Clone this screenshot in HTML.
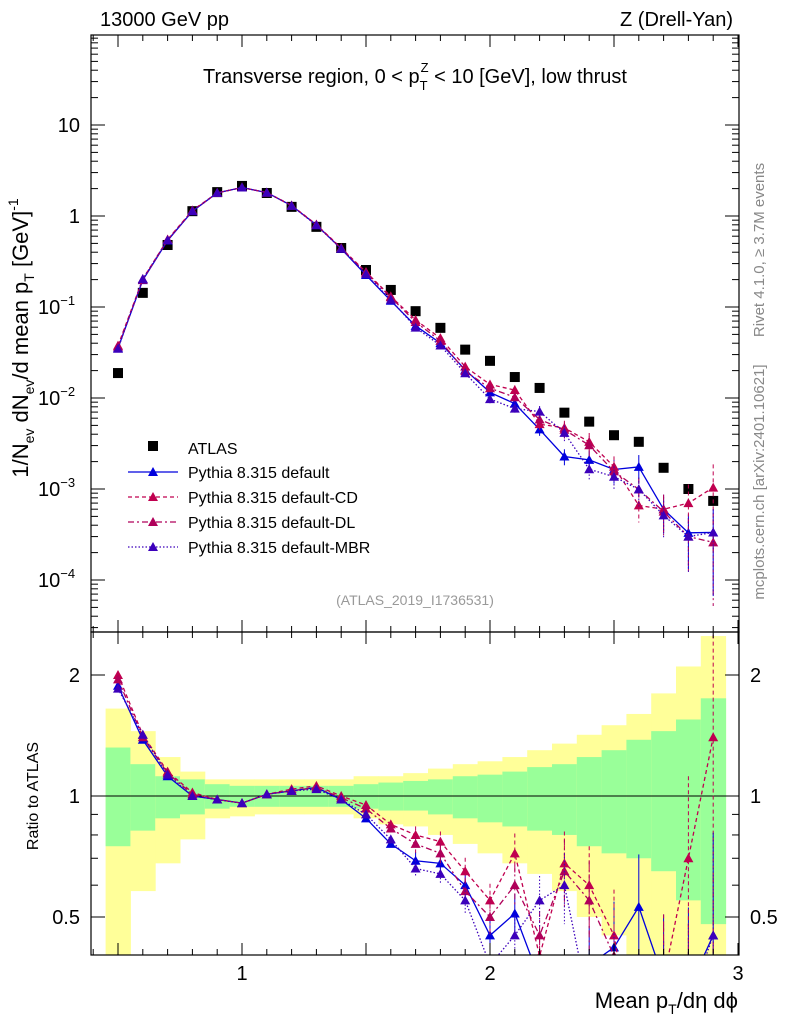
<!DOCTYPE html>
<html><head><meta charset="utf-8"><style>
html,body{margin:0;background:#fff;overflow:hidden;width:786px;height:1024px;}
svg{display:block;font-family:"Liberation Sans",sans-serif;}
</style></head><body>
<svg id="c" width="786" height="1024" viewBox="0 0 786 1024"></svg>
<script>
const bins=[0.5,0.6,0.7,0.8,0.9,1.0,1.1,1.2,1.3,1.4,1.5,1.6,1.7,1.8,1.9,2.0,2.1,2.2,2.3,2.4,2.5,2.6,2.7,2.8,2.9];
const atlas=[0.0188,0.143,0.48,1.13,1.83,2.14,1.79,1.26,0.76,0.445,0.255,0.154,0.090,0.059,0.034,0.0256,0.0170,0.0129,0.0069,0.0055,0.0039,0.0033,0.00171,0.00100,0.00074];
const rDefault=[1.88,1.38,1.12,1.0,0.98,0.96,1.01,1.03,1.05,0.98,0.88,0.76,0.69,0.68,0.60,0.45,0.51,0.35,0.33,0.38,0.42,0.53,0.35,0.33,0.45];
const rCD=[2.0,1.42,1.15,1.02,0.98,0.96,1.01,1.04,1.06,1.0,0.95,0.85,0.80,0.77,0.65,0.55,0.72,0.40,0.68,0.60,0.45,0.20,0.35,0.70,1.40];
const rDL=[1.95,1.40,1.14,1.01,0.98,0.96,1.01,1.03,1.05,0.99,0.93,0.83,0.76,0.72,0.58,0.50,0.60,0.45,0.65,0.55,0.40,0.30,0.33,0.30,0.35];
const rMBR=[1.85,1.42,1.13,1.0,0.98,0.96,1.01,1.03,1.04,0.98,0.90,0.78,0.66,0.64,0.55,0.38,0.45,0.55,0.60,0.30,0.35,0.30,0.30,0.30,0.45];
const relErr=[0.02,0.02,0.02,0.02,0.02,0.02,0.02,0.02,0.02,0.03,0.03,0.04,0.05,0.06,0.08,0.10,0.12,0.15,0.20,0.25,0.30,0.35,0.45,0.60,0.80];
const yelLo=[0.3,0.58,0.68,0.78,0.88,0.89,0.9,0.9,0.9,0.9,0.88,0.85,0.84,0.8,0.76,0.72,0.68,0.64,0.58,0.5,0.45,0.4,0.4,0.4,0.4];
const yelHi=[1.65,1.45,1.25,1.15,1.1,1.1,1.1,1.1,1.1,1.1,1.12,1.12,1.14,1.17,1.2,1.22,1.25,1.3,1.35,1.42,1.5,1.6,1.8,2.1,2.5];
const grnLo=[0.75,0.82,0.88,0.9,0.93,0.94,0.94,0.94,0.94,0.94,0.93,0.92,0.92,0.9,0.88,0.86,0.84,0.82,0.8,0.75,0.72,0.7,0.65,0.55,0.48];
const grnHi=[1.32,1.2,1.12,1.1,1.07,1.06,1.06,1.06,1.06,1.06,1.07,1.08,1.09,1.1,1.12,1.13,1.15,1.18,1.2,1.25,1.3,1.38,1.45,1.55,1.75];
const xTicks=[1,2,3];
const yTicks=[[10,"10"],[1,"1"],[0.1,"10"],[0.01,"10"],[0.001,"10"],[0.0001,"10"]];
const yExp=["","","−1","−2","−3","−4"];

const L=91,R=739,T=35,MB=632,RB=955;
const X=v=>242+(v-1)*248;
const Y=v=>216-Math.log10(v)*91;
const YR=v=>796-Math.log2(v)*121;
const svg=document.getElementById('c');
const NS="http://www.w3.org/2000/svg";
function el(tag,at,name,parent){const e=document.createElementNS(NS,tag);for(const k in at)e.setAttribute(k,at[k]);


(parent||svg).appendChild(e);return e;}
function txt(x,y,s,size,name,extra){const e=el('text',Object.assign({x:x,y:y,'font-size':size},extra||{}),name);e.innerHTML=s;return e;}

const defs=el('defs',{},'defs');
const cp1=el('clipPath',{id:'cm'},'clip-main',defs);el('rect',{x:L,y:T,width:R-L,height:MB-T},'clip-rect',cp1);
const cp2=el('clipPath',{id:'cr'},'clip-ratio',defs);el('rect',{x:L,y:MB,width:R-L,height:RB-MB},'clip-rect',cp2);
const gm=el('g',{'clip-path':'url(#cm)'},'main-plot');
const gr=el('g',{'clip-path':'url(#cr)'},'ratio-plot');

bins.forEach((b,i)=>{
 el('rect',{x:X(b-0.05),width:X(b+0.05)-X(b-0.05)+0.5,y:YR(yelHi[i]),height:YR(yelLo[i])-YR(yelHi[i]),fill:'#ffff99'},'syst-band',gr);
 el('rect',{x:X(b-0.05),width:X(b+0.05)-X(b-0.05)+0.5,y:YR(grnHi[i]),height:YR(grnLo[i])-YR(grnHi[i]),fill:'#99ff99'},'stat-band',gr);
});
el('line',{x1:L,x2:R,y1:YR(1),y2:YR(1),stroke:'#000','stroke-width':1},'ratio-unity-line',gr);

bins.forEach((b,i)=>{el('rect',{x:X(b)-5,y:Y(atlas[i])-5,width:10,height:10,fill:'#000'},'atlas-point',gm);});

const series=[
 {r:rDefault,c:'#0000dd',d:'',name:'pythia-default'},
 {r:rCD,c:'#c0004f',d:'4,3',name:'pythia-default-cd'},
 {r:rDL,c:'#b0005a',d:'6,3,2,3',name:'pythia-default-dl'},
 {r:rMBR,c:'#3c00bb',d:'1.5,2',name:'pythia-default-mbr'}];
function tri(g,x,y,c,name){el('polygon',{points:`${x},${y-5} ${x-5},${y+4} ${x+5},${y+4}`,fill:c},name,g);}
series.forEach(s=>{
 el('polyline',{points:bins.map((b,i)=>`${X(b)},${Y(atlas[i]*s.r[i])}`).join(' '),fill:'none',stroke:s.c,'stroke-width':1.3,'stroke-dasharray':s.d},s.name+'-line',gm);
 el('polyline',{points:bins.map((b,i)=>`${X(b)},${YR(s.r[i])}`).join(' '),fill:'none',stroke:s.c,'stroke-width':1.3,'stroke-dasharray':s.d},s.name+'-ratio-line',gr);
 bins.forEach((b,i)=>{
  const v=atlas[i]*s.r[i],e=relErr[i];
  if(e>0.04){
   const lo=Math.min(Y(Math.max(v*(1-e),1e-6)),MB);
   el('line',{x1:X(b),x2:X(b),y1:Y(v*(1+e)),y2:lo,stroke:s.c,'stroke-width':1,'stroke-dasharray':s.d},s.name+'-error',gm);
   const rl=Math.min(YR(Math.max(s.r[i]*(1-e),0.1)),RB);
   el('line',{x1:X(b),x2:X(b),y1:YR(s.r[i]*(1+e)),y2:rl,stroke:s.c,'stroke-width':1,'stroke-dasharray':s.d},s.name+'-ratio-error',gr);
  }
  tri(gm,X(b),Y(v),s.c,s.name+'-point');
  tri(gr,X(b),YR(s.r[i]),s.c,s.name+'-ratio-point');
 });
});

el('rect',{x:L,y:T,width:R-L,height:MB-T,fill:'none',stroke:'#000','stroke-width':1.2},'main-frame');
el('rect',{x:L,y:MB,width:R-L,height:RB-MB,fill:'none',stroke:'#000','stroke-width':1.2},'ratio-frame');

for(let k=4;k<=30;k++){
 const v=k/10,x=X(v),maj=(k%5===0);
 const l=maj?12:6;
 [[T,1],[MB,-1],[MB,1],[RB,-1]].forEach(([y0,d])=>el('line',{x1:x,x2:x,y1:y0,y2:y0+d*l,stroke:'#000'},'x-tick'));
}
xTicks.forEach(v=>txt(X(v),980,v,20,'x-tick-label',{'text-anchor':'middle'}));
for(let p=-5;p<=2;p++){for(let m=1;m<10;m++){const v=m*Math.pow(10,p),y=Y(v);if(y<T||y>MB)continue;const l=m==1?14:7;
 el('line',{x1:L,x2:L+l,y1:y,y2:y,stroke:'#000'},'y-tick');el('line',{x1:R,x2:R-l,y1:y,y2:y,stroke:'#000'},'y-tick');}}
yTicks.forEach(([v,s],i)=>{const t=txt(yExp[i]?38:80,Y(v)+7,s,20,'y-tick-label',{'text-anchor':yExp[i]?'start':'end'});
 if(yExp[i]){const ts=document.createElementNS(NS,'tspan');ts.setAttribute('dy','-9');ts.setAttribute('font-size','13');ts.textContent=yExp[i];t.appendChild(ts);}
});
[0.5,0.6,0.7,0.8,0.9,1,2].forEach(v=>{const y=YR(v),l=(v==1||v==2||v==0.5)?14:7;
 el('line',{x1:L,x2:L+l,y1:y,y2:y,stroke:'#000'},'ratio-y-tick');el('line',{x1:R,x2:R-l,y1:y,y2:y,stroke:'#000'},'ratio-y-tick');});
[[2,"2"],[1,"1"],[0.5,"0.5"]].forEach(([v,s])=>{txt(80,YR(v)+7,s,20,'ratio-y-tick-label',{'text-anchor':'end'});txt(750,YR(v)+7,s,20,'ratio-y-tick-label-right');});

txt(100,26,'13000 GeV pp',20,'beam-label');
txt(733,26,'Z (Drell-Yan)',20,'process-label',{'text-anchor':'end'});
txt(415,83,'Transverse region, 0 &lt; p<tspan font-size="13" dy="7">T</tspan><tspan font-size="13" dx="-7" dy="-18">Z</tspan><tspan dy="11"> &lt; 10 [GeV], low thrust</tspan>',20,'plot-title',{'text-anchor':'middle'});
txt(738,1008,'Mean p<tspan font-size="14" dy="6">T</tspan><tspan dy="-6">/dη dϕ</tspan>',22,'x-axis-title',{'text-anchor':'end'});
txt(0,0,'1/N<tspan font-size="14" dy="6">ev</tspan><tspan dy="-6"> dN</tspan><tspan font-size="14" dy="6">ev</tspan><tspan dy="-6">/d mean p</tspan><tspan font-size="14" dy="6">T</tspan><tspan dy="-6"> [GeV]</tspan><tspan font-size="14" dy="-10">-1</tspan>',22,'y-axis-title',{transform:'translate(28,338) rotate(-90)','text-anchor':'middle'});
txt(0,0,'Ratio to ATLAS',16,'ratio-y-axis-title',{transform:'translate(38,796) rotate(-90)','text-anchor':'middle'});
txt(0,0,'Rivet 4.1.0, ≥ 3.7M events',15,'rivet-label',{transform:'translate(764,250) rotate(-90)','text-anchor':'middle',fill:'#888'});
txt(0,0,'mcplots.cern.ch [arXiv:2401.10621]',15,'mcplots-label',{transform:'translate(764,482) rotate(-90)','text-anchor':'middle',fill:'#888'});
txt(415,605,'(ATLAS_2019_I1736531)',14,'analysis-id',{'text-anchor':'middle',fill:'#999'});

el('rect',{x:148,y:441,width:10,height:10,fill:'#000'},'legend-atlas-marker');
txt(188,454,'ATLAS',16,'legend-atlas');
const legY=[472,497,522,547];
const legN=['Pythia 8.315 default','Pythia 8.315 default-CD','Pythia 8.315 default-DL','Pythia 8.315 default-MBR'];
series.forEach((s,i)=>{el('line',{x1:128,x2:178,y1:legY[i],y2:legY[i],stroke:s.c,'stroke-width':1.3,'stroke-dasharray':s.d},'legend-line');
 tri(svg,153,legY[i],s.c,'legend-marker');txt(188,legY[i]+6,legN[i],16,'legend-entry');});
</script>
</body></html>
